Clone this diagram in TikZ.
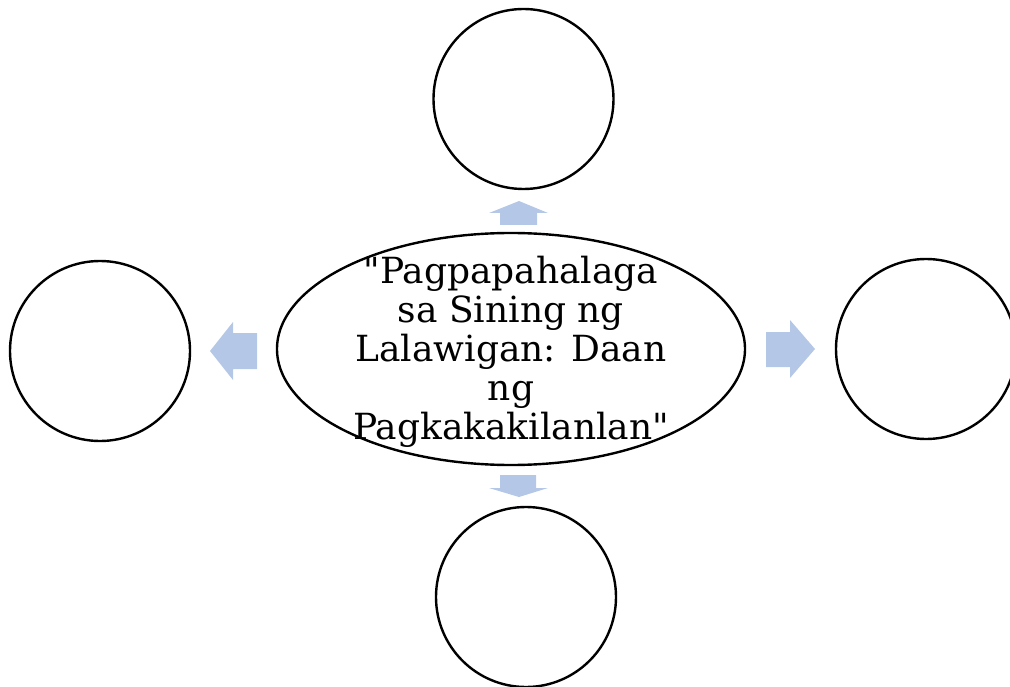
\documentclass[tikz,border=0pt]{standalone}
\usepackage{fontspec}
\setmainfont{DejaVu Serif}[Ligatures=TeXOff]
\usetikzlibrary{shapes.geometric}
\definecolor{arrowblue}{RGB}{180,199,231}
\tikzset{
  ring/.style={circle, draw=black, line width=2.4pt, minimum size=180pt, inner sep=0pt, fill=white},
  hub/.style={ellipse, draw=black, line width=2.4pt, minimum width=468pt, minimum height=232pt, inner sep=0pt},
  hubtext/.style={align=center, inner sep=0pt, font=\fontsize{36}{39}\selectfont},
  blockarrow/.style={fill=arrowblue, draw=none}
}
\begin{document}
\begin{tikzpicture}[x=1pt,y=-1pt]
\useasboundingbox (0,0) rectangle (1010,687);
\clip (0,0) rectangle (1010,687);
\node[ring] (top) at (523.5,99) {};
\node[ring] (left) at (100,351) {};
\node[ring] (right) at (926,349) {};
\node[ring] (bottom) at (526,597) {};
\node[hub] (hub) at (511,349) {};
\node[hubtext] (label) at (511,352) {"Pagpapahalaga\\sa Sining ng\\Lalawigan: Daan\\ng\\Pagkakakilanlan"};
% block arrows
\fill[blockarrow] (500,225) -- (500,213) -- (489,213) -- (519,201) -- (548,213) -- (537,213) -- (537,225) -- cycle;
\fill[blockarrow] (500,475) -- (536,475) -- (536,488) -- (548,488) -- (519,497) -- (489,488) -- (500,488) -- cycle;
\fill[blockarrow] (257,333) -- (233,333) -- (233,322) -- (210,351) -- (233,380) -- (233,369) -- (257,369) -- cycle;
\fill[blockarrow] (766,332) -- (790,332) -- (790,320) -- (815,349) -- (790,378) -- (790,367) -- (766,367) -- cycle;
\end{tikzpicture}
\end{document}
